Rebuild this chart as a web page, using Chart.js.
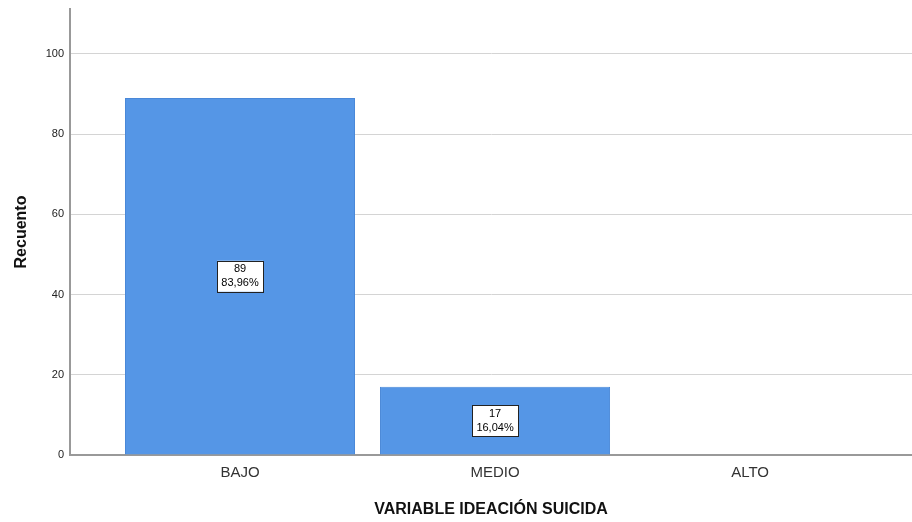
<!DOCTYPE html>
<html>
<head>
<meta charset="utf-8">
<script src="https://cdn.jsdelivr.net/npm/chart.js@4/dist/chart.umd.min.js"></script>
<style>
  html, body { margin: 0; padding: 0; background: #fff; }
  #wrap { width: 912px; height: 522px; }
</style>
</head>
<body>
<div id="wrap"><canvas id="chart"></canvas></div>
<script>
const categories = ["BAJO", "MEDIO", "ALTO"];
const counts = [89, 17, 0];
const percents = ["83,96%", "16,04%", "0,00%"];
const yTicks = [0, 20, 40, 60, 80, 100];

// SPSS-style label box in the middle of each bar
const boxLabels = {
  id: "boxLabels",
  afterDatasetsDraw(chart) {
    const ctx = chart.ctx;
    const meta = chart.getDatasetMeta(0);
    ctx.save();
    ctx.font = "11px 'Liberation Sans', Arial, sans-serif";
    ctx.textAlign = "center";
    ctx.textBaseline = "middle";
    meta.data.forEach((bar, i) => {
      if (!counts[i]) return;
      const cx = bar.x;
      const cy = (bar.y + bar.base) / 2;
      const w = 46, h = 31;
      ctx.fillStyle = "#fff";
      ctx.fillRect(cx - w / 2, cy - h / 2, w, h);
      ctx.strokeStyle = "#222";
      ctx.lineWidth = 1;
      ctx.strokeRect(Math.round(cx - w / 2) + 0.5, Math.round(cy - h / 2) + 0.5, w, h);
      ctx.fillStyle = "#000";
      ctx.fillText(String(counts[i]), cx, cy - 7);
      ctx.fillText(percents[i], cx, cy + 7);
    });
    ctx.restore();
  },
};

new Chart(document.getElementById("chart"), {
  type: "bar",
  data: {
    datasets: [
      {
        data: counts.map((c, i) => ({ x: i + 1, y: c })),
        backgroundColor: "#5596e6",
        borderColor: "#4a88d8",
        borderWidth: 1,
        barPercentage: 0.902,
        categoryPercentage: 1,
      },
    ],
  },
  options: {
    animation: false,
    responsive: true,
    maintainAspectRatio: false,
    layout: { padding: { top: 9, right: 0, bottom: 0, left: 0 } },
    plugins: {
      legend: { display: false },
      tooltip: { enabled: false },
    },
    scales: {
      x: {
        type: "linear",
        offset: false,
        min: 1 / 3,
        max: 3.635,
        grid: { display: false, drawTicks: false, offset: false },
        border: { color: "#999", width: 2 },
        afterBuildTicks: (scale) => {
          scale.ticks = categories.map((_, i) => ({ value: i + 1 }));
        },
        afterFit: (scale) => {
          scale.height = 67;
          scale.paddingLeft = 0;
          scale.paddingRight = 0;
        },
        ticks: {
          autoSkip: false,
          maxRotation: 0,
          padding: 9,
          color: "#333",
          font: { family: "'Liberation Sans', Arial, sans-serif", size: 15 },
          callback: (v) => categories[v - 1] || "",
        },
        title: {
          display: true,
          text: "VARIABLE IDEACIÓN SUICIDA",
          color: "#111",
          font: { family: "'Liberation Sans', Arial, sans-serif", size: 16, weight: "bold" },
          padding: { top: 14, bottom: 3 },
        },
      },
      y: {
        min: 0,
        max: 111.2,
        grid: { color: "#d4d4d4", drawTicks: false },
        border: { color: "#999", width: 2 },
        afterBuildTicks: (scale) => {
          scale.ticks = yTicks.map((v) => ({ value: v }));
        },
        afterFit: (scale) => {
          scale.width = 70;
          scale.paddingTop = 0;
          scale.paddingBottom = 0;
        },
        ticks: {
          padding: 6,
          color: "#222",
          font: { family: "'Liberation Sans', Arial, sans-serif", size: 11 },
        },
        title: {
          display: true,
          text: "Recuento",
          color: "#111",
          font: { family: "'Liberation Sans', Arial, sans-serif", size: 16, weight: "bold" },
          padding: { top: 12, bottom: 0 },
        },
      },
    },
  },
  plugins: [boxLabels],
});
</script>
</body>
</html>
